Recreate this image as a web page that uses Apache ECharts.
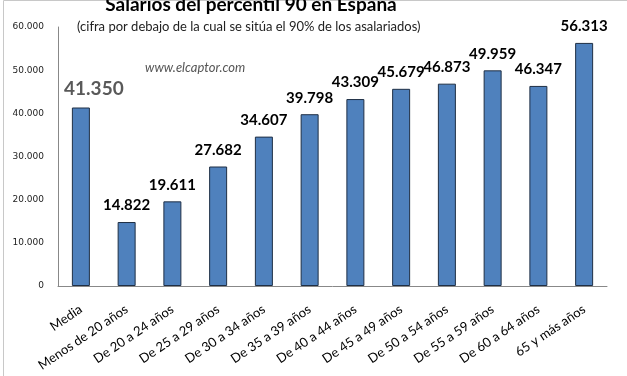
<!DOCTYPE html>
<html>
<head>
<meta charset="utf-8">
<script src="https://cdn.jsdelivr.net/npm/echarts@6/dist/echarts.min.js"></script>
<style>
  html, body { margin: 0; padding: 0; background: #fff; }
  #chart { width: 627px; height: 376px; }
</style>
</head>
<body>
<div id="chart"></div>
<script>
const categories = [
  "Media", "Menos de 20 años", "De 20 a 24 años", "De 25 a 29 años",
  "De 30 a 34 años", "De 35 a 39 años", "De 40 a 44 años", "De 45 a 49 años",
  "De 50 a 54 años", "De 55 a 59 años", "De 60 a 64 años", "65 y más años"
];
const salaries = [41350, 14822, 19611, 27682, 34607, 39798, 43309, 45679, 46873, 49959, 46347, 56313];
const yTicks = [0, 10000, 20000, 30000, 40000, 50000, 60000];

const fmt = (v) => String(v).replace(/\B(?=(\d{3})+(?!\d))/g, ".");

const chart = echarts.init(document.getElementById("chart"));

chart.setOption({
  animation: false,
  textStyle: { fontFamily: "Lato, 'Open Sans', sans-serif" },
  title: [
    {
      text: "Salarios del percentil 90 en España",
      left: 246, top: -10, textAlign: "center",
      textStyle: { fontSize: 19, fontWeight: "bold", color: "#000", fontFamily: "Lato, sans-serif" }
    },
    {
      text: "(cifra por debajo de la cual se sitúa el 90% de los asalariados)",
      left: 72, top: 15,
      textStyle: { fontSize: 13, fontWeight: "normal", color: "#222", fontFamily: "Lato, sans-serif" }
    },
    {
      text: "www.elcaptor.com",
      left: 140, top: 56,
      textStyle: { fontSize: 13, fontWeight: "normal", fontStyle: "italic", color: "#555", fontFamily: "Lato, sans-serif" }
    }
  ],
  graphic: [
    {
      type: "rect", left: 1, top: -2,
      shape: { width: 624, height: 380 },
      style: { fill: "none", stroke: "#c8c8c8", lineWidth: 1 }
    }
  ],
  grid: { left: 58, right: 20, top: 27, bottom: 90 },
  xAxis: {
    type: "category",
    data: categories,
    axisTick: { show: false },
    axisLine: { lineStyle: { color: "#888" } },
    axisLabel: {
      rotate: 34, interval: 0, margin: 22,
      fontSize: 13, color: "#000", fontFamily: "Lato, sans-serif"
    }
  },
  yAxis: {
    type: "value",
    min: yTicks[0], max: yTicks[yTicks.length - 1], interval: 10000,
    splitLine: { show: false },
    axisTick: { show: false },
    axisLine: { show: true, lineStyle: { color: "#888" } },
    axisLabel: {
      fontSize: 9, color: "#222", margin: 14,
      fontFamily: "'DejaVu Sans', sans-serif",
      formatter: (v) => fmt(v)
    }
  },
  series: [
    {
      type: "bar",
      barWidth: 18,
      data: salaries.map((v, i) => ({
        value: v,
        label: i === 0
          ? { fontSize: 19, fontWeight: "bold", color: "#595959", distance: 9, offset: [13, 0] }
          : {}
      })),
      itemStyle: { color: "#4f81bd", borderColor: "#1f2f45", borderWidth: 1 },
      label: {
        show: true, position: "top", distance: 9,
        fontSize: 15, fontWeight: "bold", color: "#000",
        fontFamily: "Lato, sans-serif",
        formatter: (p) => fmt(p.value)
      }
    }
  ]
});
</script>
</body>
</html>
